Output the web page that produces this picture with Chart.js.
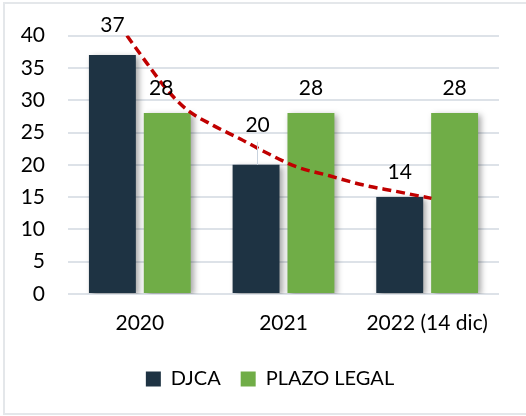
<!DOCTYPE html>
<html>
<head>
<meta charset="utf-8">
<script src="https://cdn.jsdelivr.net/npm/chart.js@4.4.1/dist/chart.umd.min.js"></script>
<style>
  body { margin: 0; background: #fff; overflow: hidden; }
  #marco { position: absolute; left: 3px; top: 2px; width: 540px; height: 413px; border: 2px solid #e4e7ea; box-sizing: border-box; }
  canvas { position: absolute; left: 0; top: 0; }
</style>
</head>
<body>
<div id="marco"></div>
<canvas id="grafico" width="526" height="416"></canvas>
<script>
// Datos
const categorias = ['2020', '2021', '2022 (14 dic)'];
const valoresDJCA = [37, 20, 15];
const etiquetasDJCA = ['37', '20', '14'];
const valoresPlazo = [28, 28, 28];
const etiquetasPlazo = ['28', '28', '28'];

// Línea de tendencia (x en índice de categoría: 0 = centro de 2020)
const tendenciaX = [-0.09, 0.05, 0.19, 0.33, 0.51, 0.70, 0.86, 1.09, 1.32, 1.55, 1.78, 2.03];
const tendenciaY = [40.0, 35.7, 31.6, 28.5, 26.1, 24.0, 22.1, 19.7, 18.3, 16.9, 15.9, 14.8];

Chart.defaults.font.family = 'Lato';
Chart.defaults.font.size = 21;
Chart.defaults.color = '#000';

// Sombra suave sólo para las barras
const sombraBarras = {
  id: 'sombraBarras',
  beforeDatasetDraw(chart, args) {
    if (args.meta.type !== 'bar') return;
    const ctx = chart.ctx;
    ctx.save();
    ctx.shadowColor = 'rgba(0,0,0,0.35)';
    ctx.shadowBlur = 6;
    ctx.shadowOffsetX = 3;
    ctx.shadowOffsetY = 2;
  },
  afterDatasetDraw(chart, args) {
    if (args.meta.type !== 'bar') return;
    chart.ctx.restore();
  }
};

// Etiquetas de valor sobre las barras
const etiquetasValor = {
  id: 'etiquetasValor',
  afterDatasetsDraw(chart) {
    const ctx = chart.ctx;
    ctx.save();
    ctx.font = '21px Lato';
    ctx.fillStyle = '#000';
    ctx.textAlign = 'center';
    ctx.textBaseline = 'middle';
    [0, 1].forEach(i => {
      const meta = chart.getDatasetMeta(i);
      const textos = i === 0 ? etiquetasDJCA : etiquetasPlazo;
      meta.data.forEach((barra, j) => {
        let x = barra.x;
        let y = barra.y - 24.5;
        if (i === 0 && j === 0) y = barra.y - 30;
        if (i === 1 && j === 0) x = barra.x - 6;
        if (i === 0 && j === 1) {
          y = barra.y - 40;
          // línea guía
          ctx.strokeStyle = '#c9d3de';
          ctx.lineWidth = 1;
          ctx.beginPath();
          ctx.moveTo(Math.round(x) + 1.5, y + 17);
          ctx.lineTo(Math.round(x) + 1.5, barra.y);
          ctx.stroke();
          x = barra.x + 1.5;
        }
        ctx.fillText(textos[j], x, y);
      });
    });
    ctx.restore();
  }
};

const ctx = document.getElementById('grafico').getContext('2d');

new Chart(ctx, {
  type: 'bar',
  data: {
    labels: categorias,
    datasets: [
      {
        label: 'DJCA',
        data: valoresDJCA,
        backgroundColor: '#1e3343',
        categoryPercentage: 0.764,
        barPercentage: 0.855,
        stack: 'a',
        order: 1
      },
      {
        label: 'PLAZO LEGAL',
        data: valoresPlazo,
        backgroundColor: '#70ad47',
        categoryPercentage: 0.764,
        barPercentage: 0.855,
        stack: 'b',
        order: 1
      },
      {
        type: 'line',
        label: 'Tendencia',
        data: tendenciaX.map((x, i) => ({ x: x, y: tendenciaY[i] })),
        parsing: false,
        borderColor: '#c00000',
        borderWidth: 3.5,
        borderDash: [9, 5],
        pointRadius: 0,
        cubicInterpolationMode: 'monotone',
        fill: false,
        order: 0
      }
    ]
  },
  options: {
    responsive: false,
    devicePixelRatio: 1,
    animation: false,
    layout: { padding: { left: 14, right: 0, top: 32, bottom: 17 } },
    scales: {
      x: {
        grid: { display: false, drawTicks: false },
        border: { display: false },
        ticks: { padding: 17, color: '#000' },
        afterFit(s) { s.height = 55; }
      },
      y: {
        min: 0,
        max: 40,
        ticks: { stepSize: 5, padding: 23, color: '#000' },
        grid: { color: '#dde2e8', lineWidth: 2, drawTicks: false },
        border: { display: false },
        afterFit(s) { s.width = 54; }
      },
      yr: {
        position: 'right',
        grid: { display: false, drawTicks: false },
        border: { display: false },
        ticks: { display: false },
        afterFit(s) { s.width = 27; }
      }
    },
    plugins: {
      legend: {
        position: 'bottom',
        labels: {
          boxWidth: 15,
          boxHeight: 15,
          padding: 20,
          color: '#000',
          font: { size: 20 },
          filter: item => item.text !== 'Tendencia'
        }
      },
      tooltip: { enabled: false }
    }
  },
  plugins: [sombraBarras, etiquetasValor]
});
</script>
</body>
</html>
